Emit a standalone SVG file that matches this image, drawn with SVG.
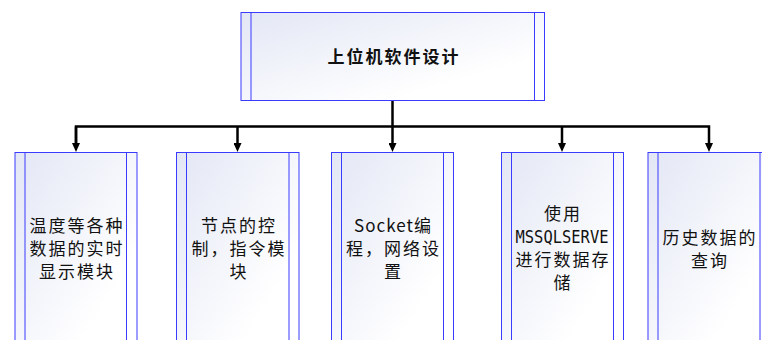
<svg xmlns="http://www.w3.org/2000/svg" width="762" height="340" viewBox="0 0 762 340">
<defs>
<linearGradient id="g" x1="0" y1="0" x2="1" y2="1">
<stop offset="0" stop-color="#e3e7f5"/>
<stop offset="0.75" stop-color="#ffffff"/>
</linearGradient>
<marker id="arr" viewBox="0 0 9 8" refX="0" refY="4" markerWidth="9" markerHeight="8" markerUnits="userSpaceOnUse" orient="auto">
<path d="M0,0 L9,4 L0,8 z" fill="#000"/>
</marker>
</defs>
<style>
.box{fill:url(#g);stroke:#3b3bff;stroke-width:1}
.in{stroke:#3b3bff;stroke-width:1}
.t{font-family:"Noto Sans CJK SC","Noto Sans",sans-serif;font-size:17px;fill:#111;text-anchor:middle;letter-spacing:2px}
.b{font-weight:bold}
.m{font-family:"DejaVu Sans Mono","Liberation Mono",monospace;font-size:17px;fill:#111;text-anchor:middle}
.c{fill:none;stroke:#000;stroke-width:2.5}
</style>
<g id="connectors">
<path class="c" d="M392.5,101 V143" marker-end="url(#arr)"/>
<path class="c" d="M76,143 V126.5 H709 V143" marker-end="url(#arr)"/>
<path class="c" d="M237.5,126.5 V143" marker-end="url(#arr)"/>
<path class="c" d="M562,126.5 V143" marker-end="url(#arr)"/>
<path class="c" d="M76,126.5 V143" marker-end="url(#arr)"/>
</g>
<g id="top">
<rect class="box" x="241" y="12.5" width="303.5" height="88"/>
<line class="in" x1="251" y1="12.5" x2="251" y2="100.5"/>
<line class="in" x1="534.5" y1="12.5" x2="534.5" y2="100.5"/>
<text class="t b" x="394" y="63">上位机软件设计</text>
</g>
<g id="n1">
<rect class="box" x="15" y="152.5" width="122" height="200"/>
<line class="in" x1="25" y1="152.5" x2="25" y2="352"/>
<line class="in" x1="126.5" y1="152.5" x2="126.5" y2="352"/>
<text class="t" x="77" y="232">温度等各种</text>
<text class="t" x="77" y="255">数据的实时</text>
<text class="t" x="77" y="278">显示模块</text>
</g>
<g id="n2">
<rect class="box" x="176.5" y="152.5" width="122.5" height="200"/>
<line class="in" x1="186.5" y1="152.5" x2="186.5" y2="352"/>
<line class="in" x1="289" y1="152.5" x2="289" y2="352"/>
<text class="t" x="239" y="232">节点的控</text>
<text class="t" x="239" y="255">制，指令模</text>
<text class="t" x="239" y="278">块</text>
</g>
<g id="n3">
<rect class="box" x="331.5" y="152.5" width="122" height="200"/>
<line class="in" x1="341.5" y1="152.5" x2="341.5" y2="352"/>
<line class="in" x1="443.5" y1="152.5" x2="443.5" y2="352"/>
<text class="t" x="393" y="232" style="letter-spacing:1px">Socket编</text>
<text class="t" x="393.5" y="255">程，网络设</text>
<text class="t" x="393.5" y="278">置</text>
</g>
<g id="n4">
<rect class="box" x="501.5" y="152.5" width="122" height="200"/>
<line class="in" x1="511.5" y1="152.5" x2="511.5" y2="352"/>
<line class="in" x1="613.5" y1="152.5" x2="613.5" y2="352"/>
<text class="t" x="563" y="220">使用</text>
<text class="m" x="562" y="243" textLength="93" lengthAdjust="spacingAndGlyphs">MSSQLSERVE</text>
<text class="t" x="563" y="265.5">进行数据存</text>
<text class="t" x="563" y="289">储</text>
</g>
<g id="n5">
<rect class="box" x="648" y="152.5" width="122" height="200"/>
<line class="in" x1="658" y1="152.5" x2="658" y2="352"/>
<line class="in" x1="760" y1="152.5" x2="760" y2="352"/>
<text class="t" x="710" y="243.5">历史数据的</text>
<text class="t" x="710" y="266.5">查询</text>
</g>
</svg>
